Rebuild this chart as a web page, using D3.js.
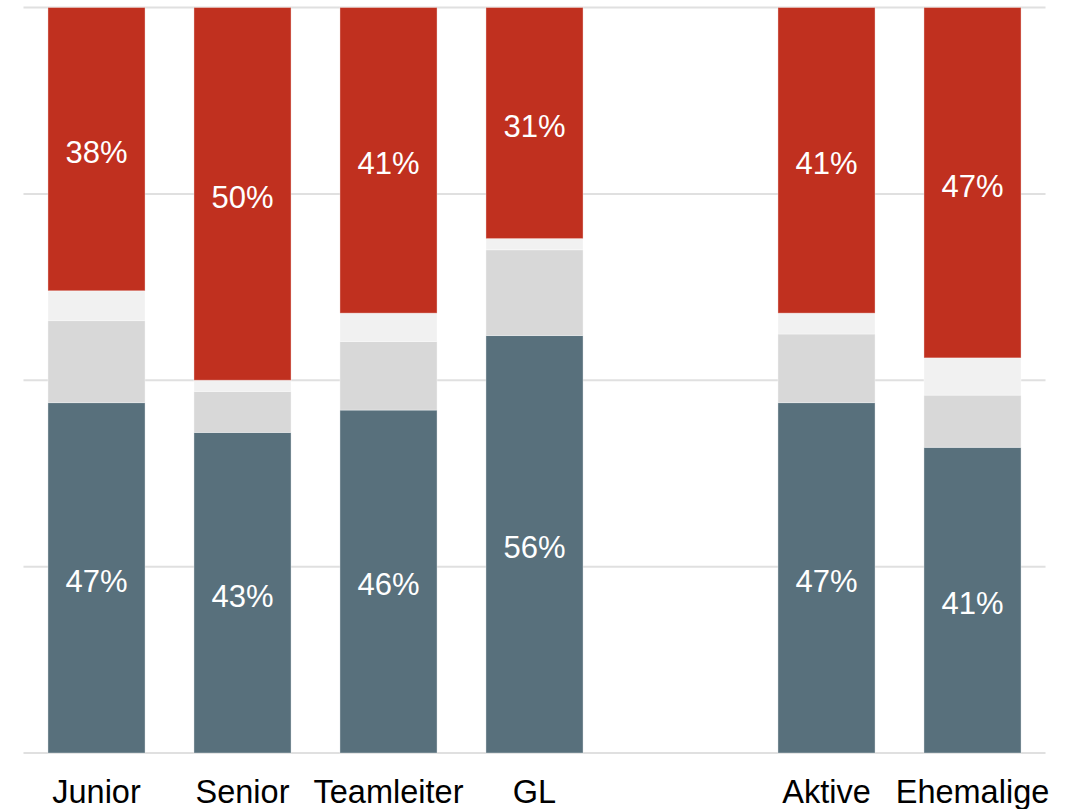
<!DOCTYPE html>
<html>
<head>
<meta charset="utf-8">
<script src="https://cdn.jsdelivr.net/npm/d3@7/dist/d3.min.js"></script>
<style>
  html, body { margin: 0; padding: 0; background: #fff; }
  svg { display: block; }
  text { font-family: "Liberation Sans", Arial, sans-serif; }
</style>
</head>
<body>
<svg id="chart" width="1071" height="809"></svg>
<script>
// Groups along the x axis; "gap" is an empty slot separating the two blocks
const categories = ["Junior", "Senior", "Teamleiter", "GL", "Aktive", "Ehemalige"];
const slots = ["Junior", "Senior", "Teamleiter", "GL", "gap", "Aktive", "Ehemalige"];

// Shares in percent, stacked bottom to top
const seriesKeys = ["ja", "teils", "keine", "nein"];
const ja    = [47, 43, 46, 56, 47, 41];
const teils = [11, 5.5, 9.2, 11.5, 9.2, 7];
const keine = [4, 1.5, 3.8, 1.5, 2.8, 5];
const nein  = [38, 50, 41, 31, 41, 47];

const yTicks = [0, 25, 50, 75, 100];
const colors = { ja: "#58707C", teils: "#D8D8D8", keine: "#F1F1F1", nein: "#C0301F" };
const labelled = ["ja", "nein"];

const rows = categories.map((c, i) => ({
  cat: c, ja: ja[i], teils: teils[i], keine: keine[i], nein: nein[i]
}));

const svg = d3.select("#chart");

const x = d3.scaleBand()
  .domain(slots)
  .range([23.5, 1045.5])
  .paddingInner(0.335)
  .paddingOuter(0.1675);

const y = d3.scaleLinear()
  .domain([0, 100])
  .range([753, 7.5]);

// Horizontal gridlines
svg.append("g")
  .selectAll("line")
  .data(yTicks)
  .join("line")
  .attr("x1", 23.5)
  .attr("x2", 1045.5)
  .attr("y1", d => y(d))
  .attr("y2", d => y(d))
  .attr("stroke", "#E0E0E0")
  .attr("stroke-width", 2);

const stacked = d3.stack().keys(seriesKeys)(rows);

const layers = svg.append("g")
  .selectAll("g")
  .data(stacked)
  .join("g")
  .attr("fill", d => colors[d.key]);

layers.selectAll("rect")
  .data(d => d)
  .join("rect")
  .attr("x", d => x(d.data.cat))
  .attr("width", x.bandwidth())
  .attr("y", d => y(d[1]))
  .attr("height", d => y(d[0]) - y(d[1]))
  .attr("stroke", "rgba(255,255,255,0.35)")
  .attr("stroke-width", 1);

// Value labels on the first and last segments
svg.append("g")
  .selectAll("g")
  .data(stacked.filter(s => labelled.includes(s.key)))
  .join("g")
  .selectAll("text")
  .data(d => d.map(p => ({ p, key: d.key })))
  .join("text")
  .attr("x", d => x(d.p.data.cat) + x.bandwidth() / 2)
  .attr("y", d => (y(d.p[0]) + y(d.p[1])) / 2)
  .attr("dy", "0.45em")
  .attr("text-anchor", "middle")
  .attr("fill", "#fff")
  .attr("font-size", 31)
  .text(d => d.p.data[d.key] + "%");

// Category axis
const xAxis = svg.append("g")
  .attr("transform", "translate(0,753)")
  .call(d3.axisBottom(x).tickSize(0).tickPadding(0)
    .tickFormat(d => d === "gap" ? "" : d));
xAxis.select(".domain").remove();
xAxis.selectAll("text")
  .attr("y", 50)
  .attr("dy", 0)
  .attr("fill", "#000")
  .attr("font-size", 32.5)
  .attr("font-family", "'Liberation Sans', Arial, sans-serif");
</script>
</body>
</html>
